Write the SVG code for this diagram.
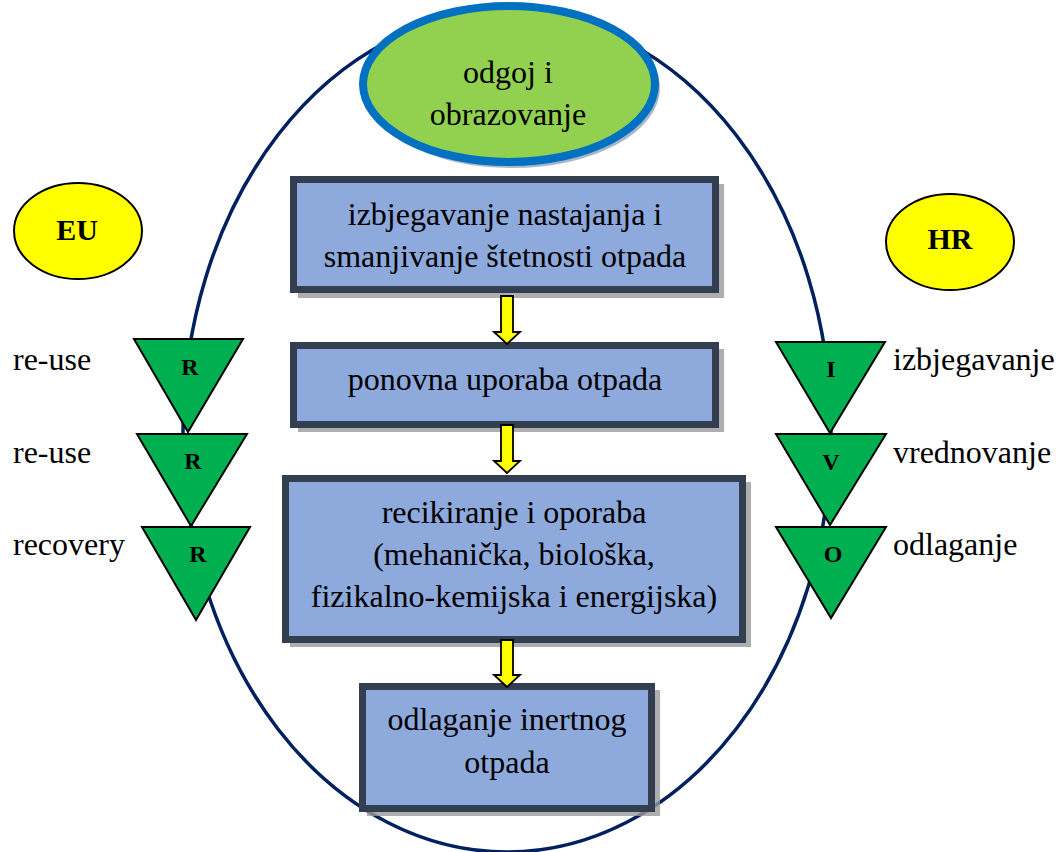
<svg xmlns="http://www.w3.org/2000/svg" width="1056" height="852" viewBox="0 0 1056 852">
<defs>
<style>
.t{font-family:"Liberation Serif","Times New Roman",serif;font-size:32px;fill:#000}
.c{text-anchor:middle}
.b{font-weight:bold}
.box{fill:#8EA9DB;stroke:#333F50;stroke-width:7}
.sh{fill:#9a9a9a;opacity:0.8}
.tri{fill:#00B050;stroke:#000;stroke-width:2;stroke-linejoin:miter}
.yel{fill:#FFFF00;stroke:#000;stroke-width:2}
.arr{fill:#FFFF00;stroke:#000;stroke-width:1.8;stroke-linejoin:miter}
</style>
</defs>
<rect width="1056" height="852" fill="#fff"/>
<g id="frame"><ellipse cx="507" cy="432" rx="324" ry="420" fill="none" stroke="#002060" stroke-width="3.5"/></g>
<g id="odgoj">
<ellipse cx="512" cy="88" rx="148" ry="80" fill="#8496B0" opacity="0.7"/>
<ellipse cx="509" cy="84" rx="146" ry="78" fill="#92D050" stroke="#0070C0" stroke-width="8"/>
<text class="t c" x="508" y="83">odgoj i</text>
<text class="t c" x="508" y="125">obrazovanje</text>
</g>
<g id="box1">
<rect class="sh" x="298" y="184" width="426" height="114"/>
<rect class="box" x="293.5" y="179.5" width="422" height="110"/>
<text class="t c" x="505" y="225">izbjegavanje nastajanja i</text>
<text class="t c" x="505" y="267">smanjivanje štetnosti otpada</text>
</g>
<g id="box2">
<rect class="sh" x="298" y="349" width="426" height="83"/>
<rect class="box" x="293.5" y="345.5" width="422" height="79"/>
<text class="t c" x="505" y="390">ponovna uporaba otpada</text>
</g>
<g id="box3">
<rect class="sh" x="290" y="482" width="461" height="165"/>
<rect class="box" x="285.5" y="478.5" width="457" height="161"/>
<text class="t c" x="514" y="523">recikiranje i oporaba</text>
<text class="t c" x="514" y="565">(mehanička, biološka,</text>
<text class="t c" x="514" y="607">fizikalno-kemijska i energijska)</text>
</g>
<g id="box4">
<rect class="sh" x="367" y="690" width="293" height="126"/>
<rect class="box" x="362.5" y="686.5" width="289" height="122"/>
<text class="t c" x="507" y="730">odlaganje inertnog</text>
<text class="t c" x="507" y="773">otpada</text>
</g>
<g id="connectors">
<path class="arr" d="M501,296 H513 V332 H520 L507,344 L494,332 H501 Z"/>
<path class="arr" d="M501,425 H513 V461 H520 L507,473 L494,461 H501 Z"/>
<path class="arr" d="M501,640 H513 V675 H520 L507,687 L494,675 H501 Z"/>
</g>
<g id="eu">
<ellipse class="yel" cx="78" cy="231" rx="64" ry="48"/>
<text class="t c b" x="77" y="240" style="font-size:30px">EU</text>
</g>
<g id="hr">
<ellipse class="yel" cx="950" cy="242" rx="64" ry="48"/>
<text class="t c b" x="950" y="249" style="font-size:30px">HR</text>
</g>
<g id="eu-r1"><polygon class="tri" points="134,339 243,339 188,432"/><text class="t c b" x="190" y="375" style="font-size:24px">R</text></g>
<g id="eu-r2"><polygon class="tri" points="137,434 247,434 191,526"/><text class="t c b" x="193" y="469" style="font-size:24px">R</text></g>
<g id="eu-r3"><polygon class="tri" points="142,527 250,527 196,620"/><text class="t c b" x="198" y="562" style="font-size:24px">R</text></g>
<g id="hr-i"><polygon class="tri" points="776,342 885,342 830,433"/><text class="t c b" x="831" y="377" style="font-size:24px">I</text></g>
<g id="hr-v"><polygon class="tri" points="776,434 886,434 830,525"/><text class="t c b" x="831" y="470" style="font-size:24px">V</text></g>
<g id="hr-o"><polygon class="tri" points="776,527 886,527 831,618"/><text class="t c b" x="833" y="562" style="font-size:24px">O</text></g>
<g id="labels">
<text class="t" x="13" y="370">re-use</text>
<text class="t" x="13" y="463">re-use</text>
<text class="t" x="13" y="555">recovery</text>
<text class="t" x="893" y="370">izbjegavanje</text>
<text class="t" x="893" y="463">vrednovanje</text>
<text class="t" x="893" y="555">odlaganje</text>
</g>
</svg>
